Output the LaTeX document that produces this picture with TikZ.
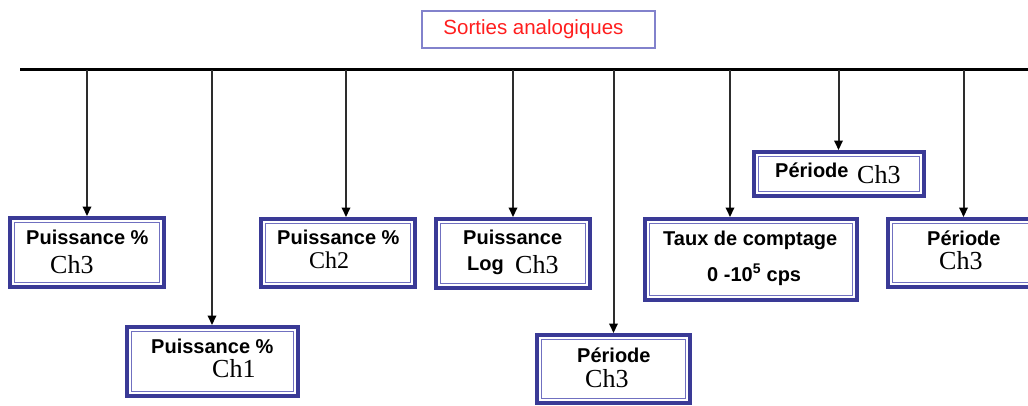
\documentclass[tikz,border=0pt]{standalone}
\usepackage{fontspec}
\usetikzlibrary{arrows.meta}
\newfontfamily\lsans{Liberation Sans}
\newfontfamily\lserif{Liberation Serif}
\definecolor{frameout}{RGB}{58,58,150}
\definecolor{framein}{RGB}{112,112,192}
\definecolor{titleframe}{RGB}{130,130,204}
\definecolor{titletext}{RGB}{255,30,30}
\definecolor{linkgray}{RGB}{45,45,45}

\tikzset{
  panel/.style={draw=frameout, line width=4pt, outer sep=2pt, inner sep=0pt, fill=white},
  panelin/.style={draw=framein, line width=1.3pt},
  titlebox/.style={draw=titleframe, line width=1.4pt, inner sep=0pt, text=titletext,
    font=\lsans\fontsize{20.5}{22}\selectfont},
  bus/.style={line width=3.5pt, black},
  link/.style={linkgray, line width=2pt,
    -{Triangle[length=9.5pt, width=8.5pt, color=black]}},
  lbl/.style={anchor=base west, inner sep=0pt, font=\lsans\bfseries\fontsize{20}{22}\selectfont},
  chn/.style={anchor=base west, inner sep=0pt, font=\lserif\fontsize{26}{28}\selectfont},
}

% double-framed panel: name, x1, y1, x2, y2 (centre of the outer stroke)
\newcommand\panelbox[5]{%
  \node[panel, minimum width={(#4-#2)*1pt}, minimum height={(#5-#3)*1pt}]
    (#1) at ({(#2+#4)/2},{(#3+#5)/2}) {};
  \draw[panelin] ([xshift=6.75pt,yshift=-6.75pt]#1.north west)
    rectangle ([xshift=-6.75pt,yshift=6.75pt]#1.south east);}

\begin{document}
\begin{tikzpicture}[x=1pt, y=-1pt]
\useasboundingbox (0,0) rectangle (1028,405);
\clip (0,0) rectangle (1028,405);

% title
\node[titlebox, minimum width=233pt, minimum height=37pt] (title) at (538.5,29.5)
  {\hspace*{-10pt}Sorties analogiques};

% bus and its taps
\coordinate (busL) at (20,69.5);
\coordinate (busR) at (1030,69.5);
\draw[bus] (busL) -- (busR);
\coordinate (t1) at (87,69.5);
\coordinate (t2) at (212,69.5);
\coordinate (t3) at (346,69.5);
\coordinate (t4) at (513,69.5);
\coordinate (t5) at (613.5,69.5);
\coordinate (t6) at (730,69.5);
\coordinate (t7) at (838.5,69.5);
\coordinate (t8) at (963.5,69.5);

% panels
\panelbox{b1}{10}{218}{164}{287}
\panelbox{b2}{127}{327}{298}{396}
\panelbox{b3}{261}{219}{415}{287}
\panelbox{b4}{436}{219}{590}{288}
\panelbox{b5}{537}{335}{690}{403}
\panelbox{b6}{645}{219}{857}{300}
\panelbox{b7}{754}{152}{924}{196}
\panelbox{b8}{888}{219}{1045}{287}

% connectors
\foreach \i in {1,...,8} {
  \draw[link] (t\i) -- (t\i |- b\i.north);
}

% panel texts
\node[lbl] (b1a) at (26,244) {Puissance \%};
\node[chn] (b1b) at (50,273) {Ch3};
\node[lbl] (b2a) at (151,353) {Puissance \%};
\node[chn] (b2b) at (212,377) {Ch1};
\node[lbl] (b3a) at (277,244) {Puissance \%};
\node[chn, font=\lserif\fontsize{24}{26}\selectfont] (b3b) at (309,268) {Ch2};
\node[lbl] (b4a) at (463,244) {Puissance};
\node[lbl] (b4b) at (467,270) {Log};
\node[chn] (b4c) at (515,273) {Ch3};
\node[lbl] (b5a) at (577,362) {Période};
\node[chn] (b5b) at (585,387) {Ch3};
\node[lbl] (b6a) at (663,245) {Taux de comptage};
\node[lbl] (b6b) at (707,281) {0 -10\textsuperscript{5} cps};
\node[lbl] (b7a) at (775,177) {Période};
\node[chn] (b7b) at (857,183) {Ch3};
\node[lbl] (b8a) at (927,245) {Période};
\node[chn] (b8b) at (939,269) {Ch3};
\end{tikzpicture}
\end{document}
